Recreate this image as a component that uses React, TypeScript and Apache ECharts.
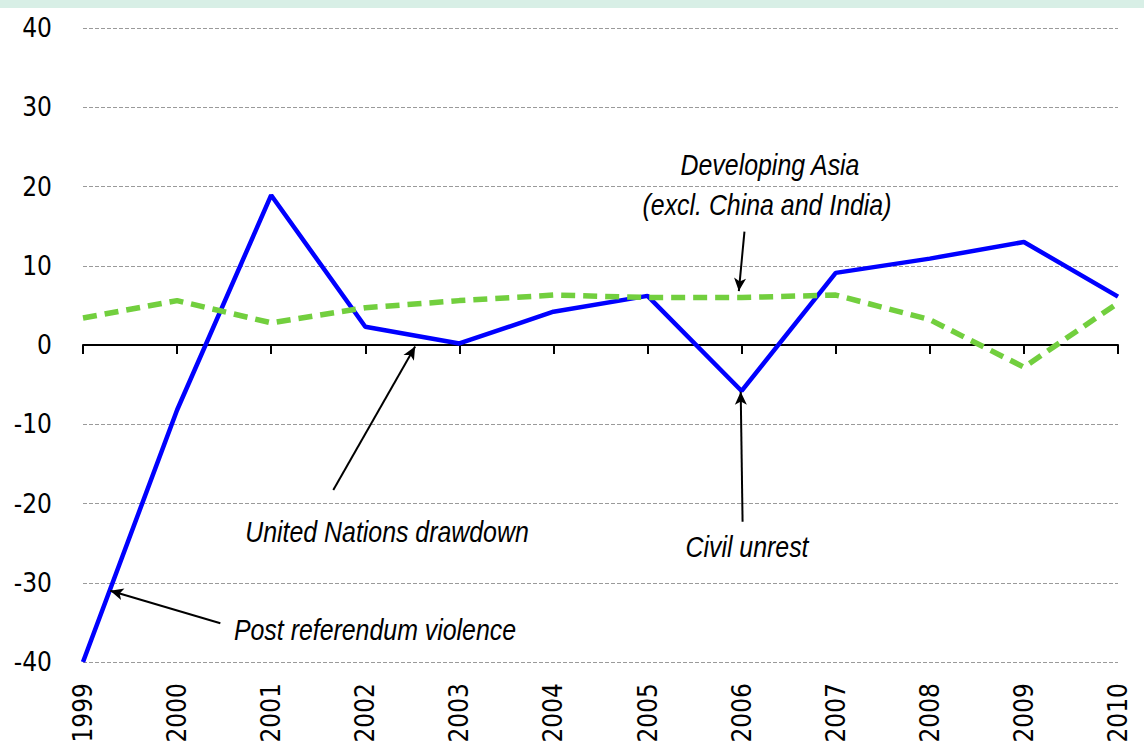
import React, { useEffect, useRef } from "react";
import * as echarts from "echarts";

const years = [1999, 2000, 2001, 2002, 2003, 2004, 2005, 2006, 2007, 2008, 2009, 2010];
const timorLeste = [-40, -8.2, 18.9, 2.3, 0.2, 4.2, 6.2, -5.8, 9.1, 10.9, 13.0, 6.1];
const developingAsia = [3.4, 5.6, 2.8, 4.7, 5.6, 6.3, 6.0, 6.0, 6.3, 3.2, -2.8, 5.3];
const yTicks = [-40, -30, -20, -10, 0, 10, 20, 30, 40];

// annotation arrows in data coordinates: [fromYear, fromValue, toYear, toValue]
const arrows: number[][] = [
  [2001.66, -18.3, 2002.53, -0.2],
  [2006.01, -22.3, 2005.99, -5.9],
  [2000.46, -35.1, 1999.29, -31.0],
  [2006.03, 14.3, 2005.97, 6.8],
];

const AXIS_FONT = "'DejaVu Sans Condensed', 'Liberation Sans Narrow', sans-serif";
const ANN_FONT = "'Liberation Sans', Arial, sans-serif";

export default function App() {
  const ref = useRef<HTMLDivElement>(null);
  useEffect(() => {
    if (!ref.current) return;
    const chart = echarts.init(ref.current, null, { renderer: "svg" });
    const annText = (text: string, x: number, y: number) => ({
      type: "text",
      x,
      y,
      scaleX: 0.83,
      style: {
        text,
        fontFamily: ANN_FONT,
        fontStyle: "italic",
        fontSize: 30,
        fill: "#000",
        align: "center",
        verticalAlign: "middle",
      },
    });
    chart.setOption({
      animation: false,
      backgroundColor: "#fff",
      grid: { left: 83, right: 26, top: 28, bottom: 84, outerBoundsMode: "none", containLabel: false },
      xAxis: [
        {
          type: "value",
          min: 1999,
          max: 2010,
          interval: 1,
          axisLine: { onZero: true, lineStyle: { color: "#000", width: 2 } },
          axisTick: { show: true, length: 9, lineStyle: { color: "#000", width: 2 } },
          axisLabel: { show: false },
          splitLine: { show: false },
        },
        {
          type: "value",
          min: 1999,
          max: 2010,
          interval: 1,
          position: "bottom",
          axisLine: { show: false, onZero: false },
          axisTick: { show: false },
          splitLine: { show: false },
          axisLabel: {
            show: true,
            rotate: 90,
            margin: 21,
            fontFamily: AXIS_FONT,
            fontSize: 26,
            color: "#000",
            formatter: (v: number) => String(v),
          },
        },
      ],
      yAxis: {
        type: "value",
        min: yTicks[0],
        max: yTicks[yTicks.length - 1],
        interval: 10,
        axisLine: { show: false },
        axisTick: { show: false },
        axisLabel: { margin: 31, fontFamily: AXIS_FONT, fontSize: 26, color: "#000" },
        splitLine: { show: true, lineStyle: { color: "#9a9a9a", width: 1, type: [4, 2] } },
      },
      series: [
        {
          type: "line",
          xAxisIndex: 0,
          data: years.map((y, i) => [y, developingAsia[i]]),
          symbol: "none",
          lineStyle: { color: "#72cf3e", width: 5.5, type: [14, 8] },
          z: 3,
        },
        {
          type: "line",
          xAxisIndex: 0,
          data: years.map((y, i) => [y, timorLeste[i]]),
          symbol: "none",
          lineStyle: { color: "#0000ff", width: 4.5 },
          z: 2,
          markLine: {
            silent: true,
            symbol: ["none", "arrow"],
            symbolSize: [9, 13],
            label: { show: false },
            lineStyle: { color: "#000", width: 2, type: "solid" },
            data: arrows.map((a) => [{ coord: [a[0], a[1]] }, { coord: [a[2], a[3]] }]),
            z: 10,
          },
        },
      ],
      graphic: [
        { type: "rect", left: 0, top: 0, shape: { width: 1144, height: 8 }, style: { fill: "#d8efe6" } },
        annText("Developing Asia", 770, 165),
        annText("(excl. China and India)", 767, 205),
        annText("United Nations drawdown", 387, 532),
        annText("Civil unrest", 747, 547),
        annText("Post referendum violence", 375, 630),
      ],
    });
    return () => chart.dispose();
  }, []);
  return (
    <div
      ref={ref}
      style={{ position: "absolute", left: 0, top: 0, width: 1144, height: 746 }}
    />
  );
}
